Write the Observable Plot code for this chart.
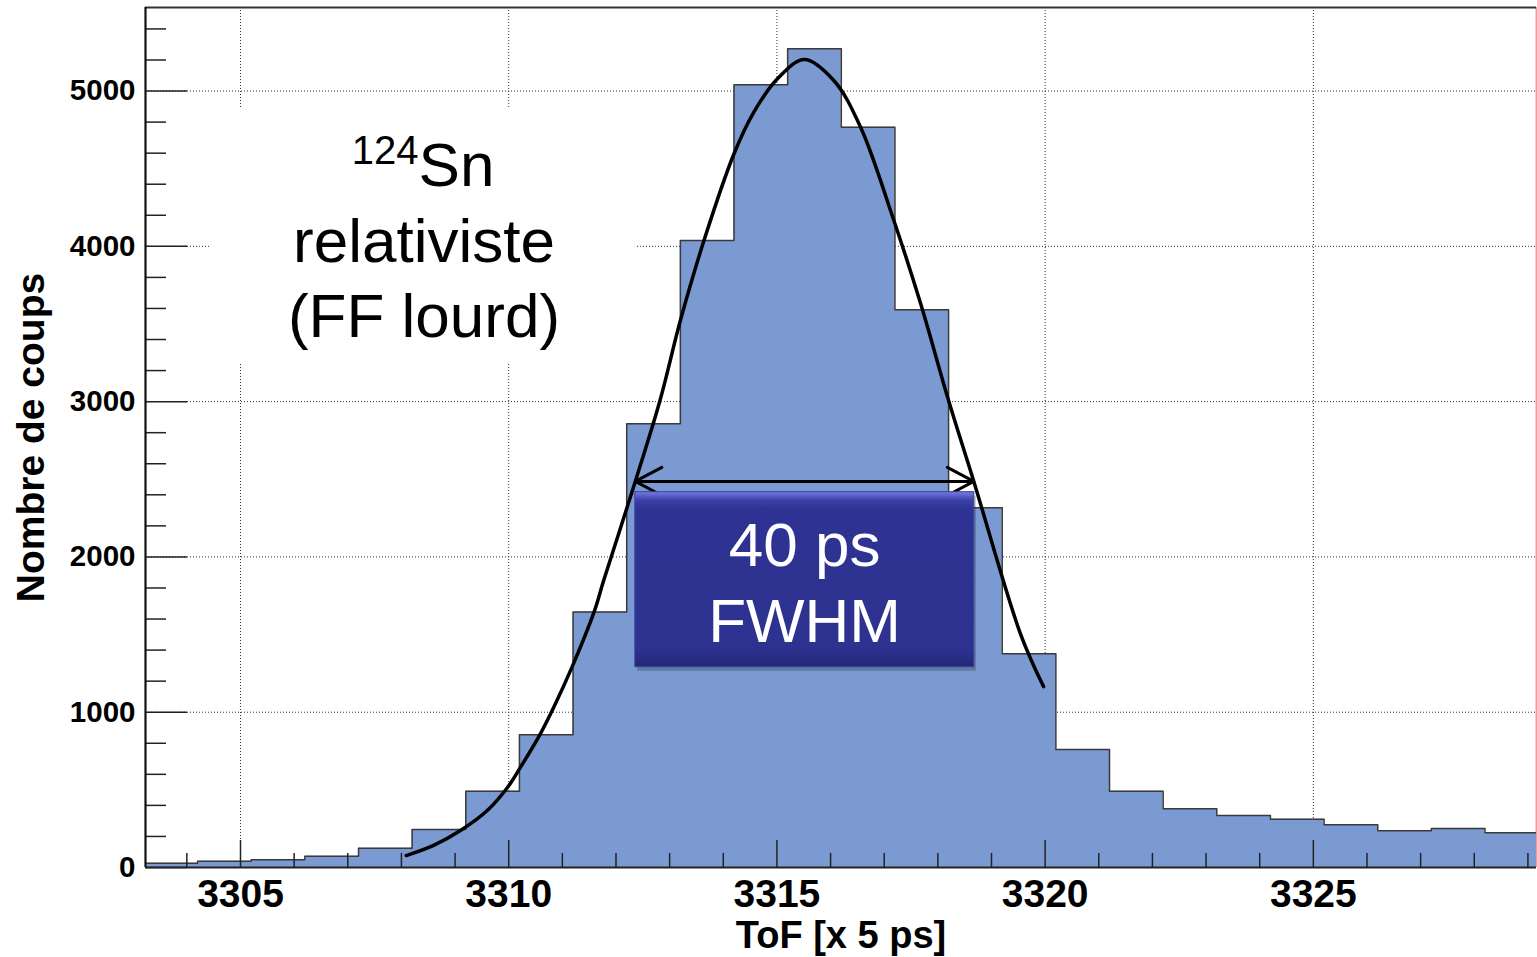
<!DOCTYPE html>
<html><head><meta charset="utf-8">
<script src="https://cdn.jsdelivr.net/npm/d3@7"></script>
<script src="https://cdn.jsdelivr.net/npm/@observablehq/plot@0.6"></script>
<style>html,body{margin:0;padding:0;background:#fff;overflow:hidden}</style>
</head><body><div id="chart"></div>
<script>
// ---- data ----
const binStarts = [3303.2,3304.2,3305.2,3306.2,3307.2,3308.2,3309.2,3310.2,3311.2,3312.2,3313.2,3314.2,3315.2,3316.2,3317.2,3318.2,3319.2,3320.2,3321.2,3322.2,3323.2,3324.2,3325.2,3326.2,3327.2,3328.2];
const counts = [28,41,50,73,124,244,491,855,1646,2858,4037,5040,5272,4767,3591,2316,1376,760,491,378,335,311,275,236,251,223];
const binWidth = 1;
const fitX = [3308.09,3308.60,3309.10,3309.60,3309.98,3310.22,3310.59,3310.84,3311.18,3311.59,3311.77,3312.36,3312.82,3313.20,3313.64,3314.20,3314.57,3315.01,3315.51,3316.06,3316.56,3317.18,3317.68,3318.20,3318.67,3319.54,3319.97];
const fitY = [77,142,238,367,517,646,861,1032,1290,1644,1848,2486,3007,3522,4037,4596,4864,5079,5203,5068,4767,4166,3630,3007,2486,1505,1165];
const xTickValues = [3305,3310,3315,3320,3325];
const xTickLabels = ["3305","3310","3315","3320","3325"];
const yTickValues = [0,1000,2000,3000,4000,5000];
const yTickLabels = ["0","1000","2000","3000","4000","5000"];
const xTitle = "ToF [x 5 ps]";
const yTitle = "Nombre de coups";
const isotopeMass = "124";
const isotopeSymbol = "Sn";
const noteLines = ["relativiste", "(FF lourd)"];
const fwhmLines = ["40 ps", "FWHM"];
const fwhm = {x1: 3312.36, x2: 3318.67, y: 2486};

// ---- layout ----
const W = 1537, H = 957;
const mL = 145, mR = 1, mT = 7, mB = 90;
const plotW = W - mL - mR, plotH = H - mT - mB;
const xDomain = [3303.229, 3329.16];
const yDomain = [0, 5538];
const font = "'Liberation Sans', Arial, Helvetica, sans-serif";

const hist = binStarts.map((x, i) => ({x, y: counts[i]}));
hist.push({x: binStarts[binStarts.length - 1] + binWidth, y: counts[counts.length - 1]});
const fit = fitX.map((x, i) => ({x, y: fitY[i]}));
const xMinor = d3.range(3304, 3330).filter(v => v % 5 !== 0);
const yMinor = d3.range(200, 5600, 200).filter(v => v % 1000 !== 0);
const mid = (fwhm.x1 + fwhm.x2) / 2;

const grid = {stroke: "#333", strokeWidth: 1, strokeDasharray: "1,2"};
const tick = {stroke: "#222", strokeWidth: 1.5};

const svg = Plot.plot({
  width: W, height: H,
  marginLeft: mL, marginRight: mR, marginTop: mT, marginBottom: mB,
  x: {domain: xDomain, axis: null},
  y: {domain: yDomain, axis: null},
  style: {background: "white", fontFamily: font, overflow: "visible"},
  marks: [
    // dotted grid
    Plot.ruleY(yTickValues.slice(1), {y: d => d, ...grid}),
    Plot.ruleX(xTickValues, {x: d => d, ...grid}),
    // red right border (under histogram)
    Plot.ruleX([xDomain[1]], {stroke: "#f29a9a", strokeWidth: 2}),
    // white background behind the annotation text
    Plot.rect([0], {x1: 3304.44, x2: 3312.36, y1: 3245, y2: 4887, fill: "white"}),
    // histogram
    Plot.areaY(hist, {x: "x", y: "y", curve: "step-after", fill: "#7b9ad2", clip: true}),
    Plot.lineY(hist, {x: "x", y: "y", curve: "step-after", stroke: "#3a3a3a", strokeWidth: 1.5, clip: true}),
    // gaussian fit
    Plot.line(fit, {x: "x", y: "y", curve: "catmull-rom", stroke: "black", strokeWidth: 3.5}),
    // FWHM arrow
    Plot.arrow([{a: mid, b: fwhm.x1}, {a: mid, b: fwhm.x2}], {x1: "a", x2: "b", y1: fwhm.y, y2: fwhm.y, stroke: "black", strokeWidth: 3, headLength: 15, headAngle: 56}),
    // FWHM box
    Plot.rect([0], {x1: fwhm.x1, x2: 3318.68, y1: 1290, y2: 2417, fill: "#000", fillOpacity: 0.22, dx: 2, dy: 4}),
    Plot.rect([0], {x1: fwhm.x1, x2: 3318.68, y1: 1290, y2: 2417, fill: "url(#boxgrad)", stroke: "#3c42a0", strokeWidth: 1}),
    Plot.text([fwhmLines[0]], {x: mid, y: 1940, text: d => d, lineAnchor: "bottom", fill: "white", fontSize: 62}),
    Plot.text([fwhmLines[1]], {x: mid, y: 1451, text: d => d, lineAnchor: "bottom", fill: "white", fontSize: 62}),
    // isotope annotation
    Plot.text([isotopeMass], {x: 3308.32, y: 4533, text: d => d, textAnchor: "end", lineAnchor: "bottom", fill: "black", fontSize: 40}),
    Plot.text([isotopeSymbol], {x: 3308.32, y: 4391, text: d => d, textAnchor: "start", lineAnchor: "bottom", fill: "black", fontSize: 62}),
    Plot.text([noteLines[0]], {x: 3308.42, y: 3898, text: d => d, lineAnchor: "bottom", fill: "black", fontSize: 62}),
    Plot.text([noteLines[1]], {x: 3308.42, y: 3415, text: d => d, lineAnchor: "bottom", fill: "black", fontSize: 62}),
    // ticks (inside the frame)
    Plot.ruleX(xMinor, {x: d => d, insetTop: plotH - 14, ...tick}),
    Plot.ruleX(xTickValues, {x: d => d, insetTop: plotH - 27, ...tick}),
    Plot.ruleY(yMinor, {y: d => d, insetRight: plotW - 21, ...tick}),
    Plot.ruleY(yTickValues, {y: d => d, insetRight: plotW - 42, ...tick}),
    // axis lines / frame
    Plot.ruleY([yDomain[1]], {stroke: "#333", strokeWidth: 2}),
    Plot.ruleY([0], {stroke: "#222", strokeWidth: 2.2}),
    Plot.ruleX([xDomain[0]], {stroke: "#111", strokeWidth: 2.2}),
    // tick labels
    Plot.text(xTickValues, {x: d => d, text: (d, i) => xTickLabels[i], frameAnchor: "bottom", dy: 39, lineAnchor: "bottom", fontSize: 39, fontWeight: "bold", fill: "black"}),
    Plot.text(yTickValues, {y: d => d, text: (d, i) => yTickLabels[i], frameAnchor: "left", dx: -10, textAnchor: "end", fontSize: 29.5, fontWeight: "bold", fill: "black"}),
    // axis titles
    Plot.text([xTitle], {text: d => d, frameAnchor: "bottom", dy: 80, lineAnchor: "bottom", textAnchor: "middle", fontSize: 38, fontWeight: "bold", fill: "black"}),
    Plot.text([yTitle], {text: d => d, frameAnchor: "left", dx: -102, rotate: -90, lineAnchor: "bottom", textAnchor: "middle", fontSize: 39, fontWeight: "bold", fill: "black"})
  ]
});

// gradient for the bevelled FWHM box
const NS = "http://www.w3.org/2000/svg";
const defs = document.createElementNS(NS, "defs");
const lg = document.createElementNS(NS, "linearGradient");
lg.setAttribute("id", "boxgrad");
lg.setAttribute("x1", "0"); lg.setAttribute("y1", "0");
lg.setAttribute("x2", "0"); lg.setAttribute("y2", "1");
[["0", "#747be0"], ["0.05", "#3b41aa"], ["0.1", "#2e3393"], ["0.9", "#2d3290"], ["1", "#232774"]].forEach(([o, c]) => {
  const s = document.createElementNS(NS, "stop");
  s.setAttribute("offset", o); s.setAttribute("stop-color", c);
  lg.appendChild(s);
});
defs.appendChild(lg);
svg.insertBefore(defs, svg.firstChild);

document.getElementById("chart").appendChild(svg);
</script>
</body></html>
